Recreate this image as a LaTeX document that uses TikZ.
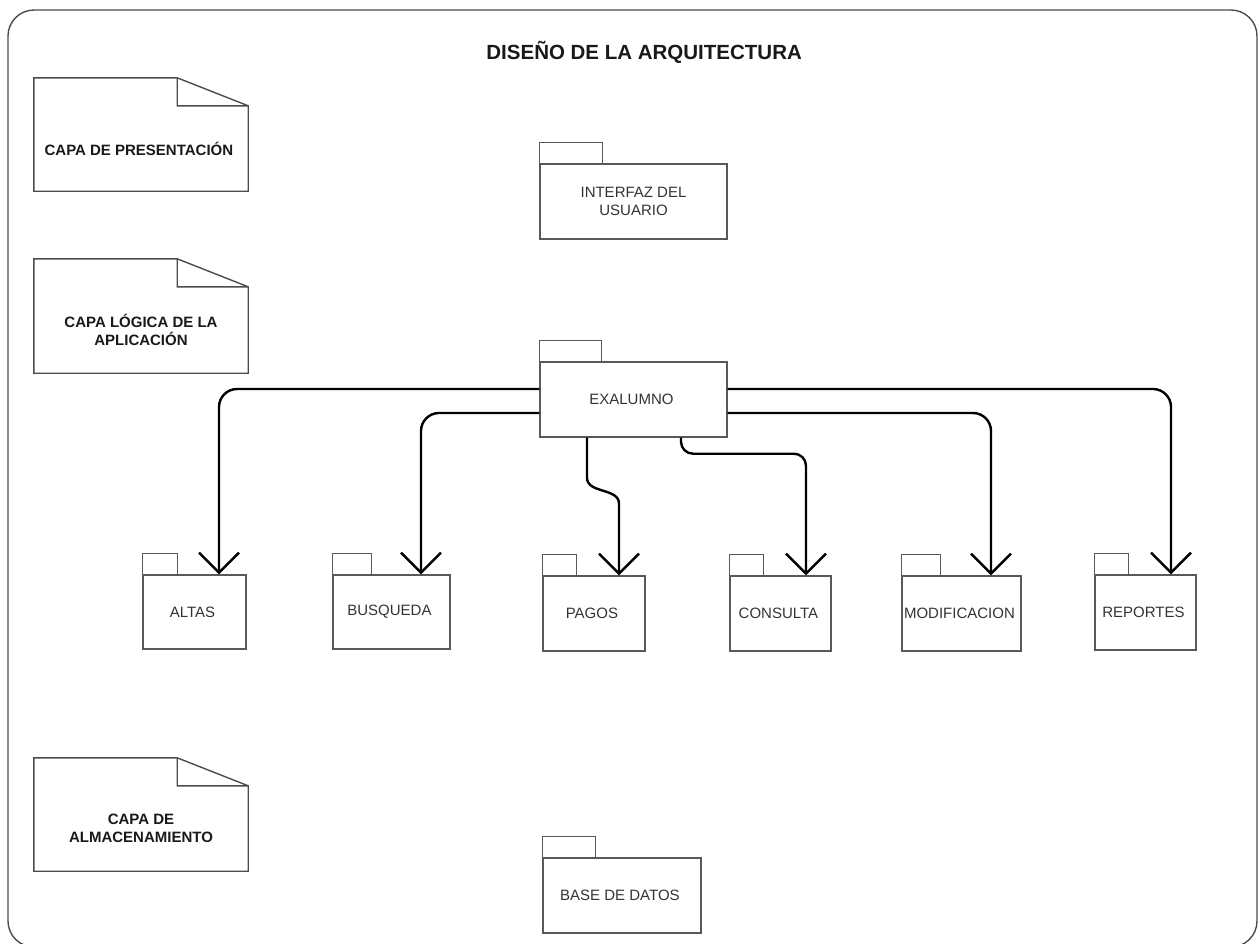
\documentclass[tikz,border=0pt]{standalone}
\usepackage{fontspec}
\setmainfont{Liberation Sans}
\usetikzlibrary{arrows.meta}

\begin{document}
\begin{tikzpicture}[x=1pt, y=-1pt,
        pkg/.style={draw=black!65, line width=1.4pt, minimum height=75pt, inner sep=2pt, align=center, text=black!80, font=\fontsize{15}{18}\selectfont},
        nota/.style={minimum width=214pt, align=center, text=black!90, font=\bfseries\fontsize{15}{18}\selectfont},
        dep/.style={->, line width=2.4pt, rounded corners=18pt},
        >={Straight Barb[length=20pt, width=40pt]}]

            \useasboundingbox (0, 0) rectangle (1260, 943);
            \draw[black!70, line width=1.4pt, rounded corners=26pt] (8, 10) rectangle (1257, 947);

            \node[align=center, text=black!90, font=\bfseries\fontsize{20.5}{24}\selectfont] (titulo) at (647, 52) { DISEÑO DE LA ARQUITECTURA };

            \node[nota, minimum height=85pt] (presentacion) at (141, 148.5) { CAPA DE PRESENTACIÓN };
            \node[nota, minimum height=86pt] (logica) at (141, 330) { CAPA LÓGICA DE LA\\APLICACIÓN };
            \node[nota, minimum height=85pt] (almacen) at (141, 828.5) { CAPA DE\\ALMACENAMIENTO };

            \node[pkg, minimum width=187pt] (interfaz) at (633.5, 201.5) { INTERFAZ DEL\\USUARIO };
            \node[pkg, minimum width=187pt] (exalumno) at (633.5, 399.5) { EXALUMNO };
            \node[pkg, minimum width=103pt, minimum height=74pt] (altas) at (194.5, 612) { ALTAS };
            \node[pkg, minimum width=117pt, minimum height=74pt] (busqueda) at (391.5, 612) { BUSQUEDA };
            \node[pkg, minimum width=102pt] (pagos) at (594, 613.5) { PAGOS };
            \node[pkg, minimum width=101pt] (consulta) at (780.5, 613.5) { CONSULTA };
            \node[pkg, minimum width=117pt] (modificacion) at (961.5, 613.5) { MODIFICACION };
            \node[pkg, minimum width=101pt] (reportes) at (1145.5, 612.5) { REPORTES };
            \node[pkg, minimum width=158pt] (base) at (622, 895.5) { BASE DE DATOS };

            % pestanas de los paquetes
            \foreach \n/\w in {interfaz/63, exalumno/62, altas/35, busqueda/39, pagos/34, consulta/34, modificacion/39, reportes/34, base/53}
                \draw[black!65, line width=1.4pt] (\n.north west) rectangle ++(\w, -21);

            % notas con esquina doblada
            \foreach \n in {presentacion, logica, almacen}
                \draw[black!70, line width=1.4pt] ([yshift=28pt]\n.north west) -- ([xshift=-71pt, yshift=28pt]\n.north east) -- (\n.north east) -- (\n.south east) -- (\n.south west) -- cycle
                    ([xshift=-71pt, yshift=28pt]\n.north east) |- (\n.north east);

            \draw[dep] ([yshift=10.5pt]exalumno.west) -| ([xshift=24.5pt]altas.north);
            \draw[dep] ([yshift=-13.5pt]exalumno.west) -| ([xshift=29.5pt]busqueda.north);
            \draw[->, line width=2.4pt] ([xshift=-46.5pt]exalumno.south) -- ++(0, 40) .. controls +(0, 16) and +(0, -16) .. ++(32, 26) -- ([xshift=25pt]pagos.north);
            \draw[dep, rounded corners=12pt] ([xshift=47.5pt]exalumno.south) -- ++(0, 16) -| ([xshift=25.5pt]consulta.north);
            \draw[dep] ([yshift=-13.5pt]exalumno.east) -| ([xshift=29.5pt]modificacion.north);
            \draw[dep] ([yshift=10.5pt]exalumno.east) -| ([xshift=25.5pt]reportes.north);

\end{tikzpicture}
\end{document}
